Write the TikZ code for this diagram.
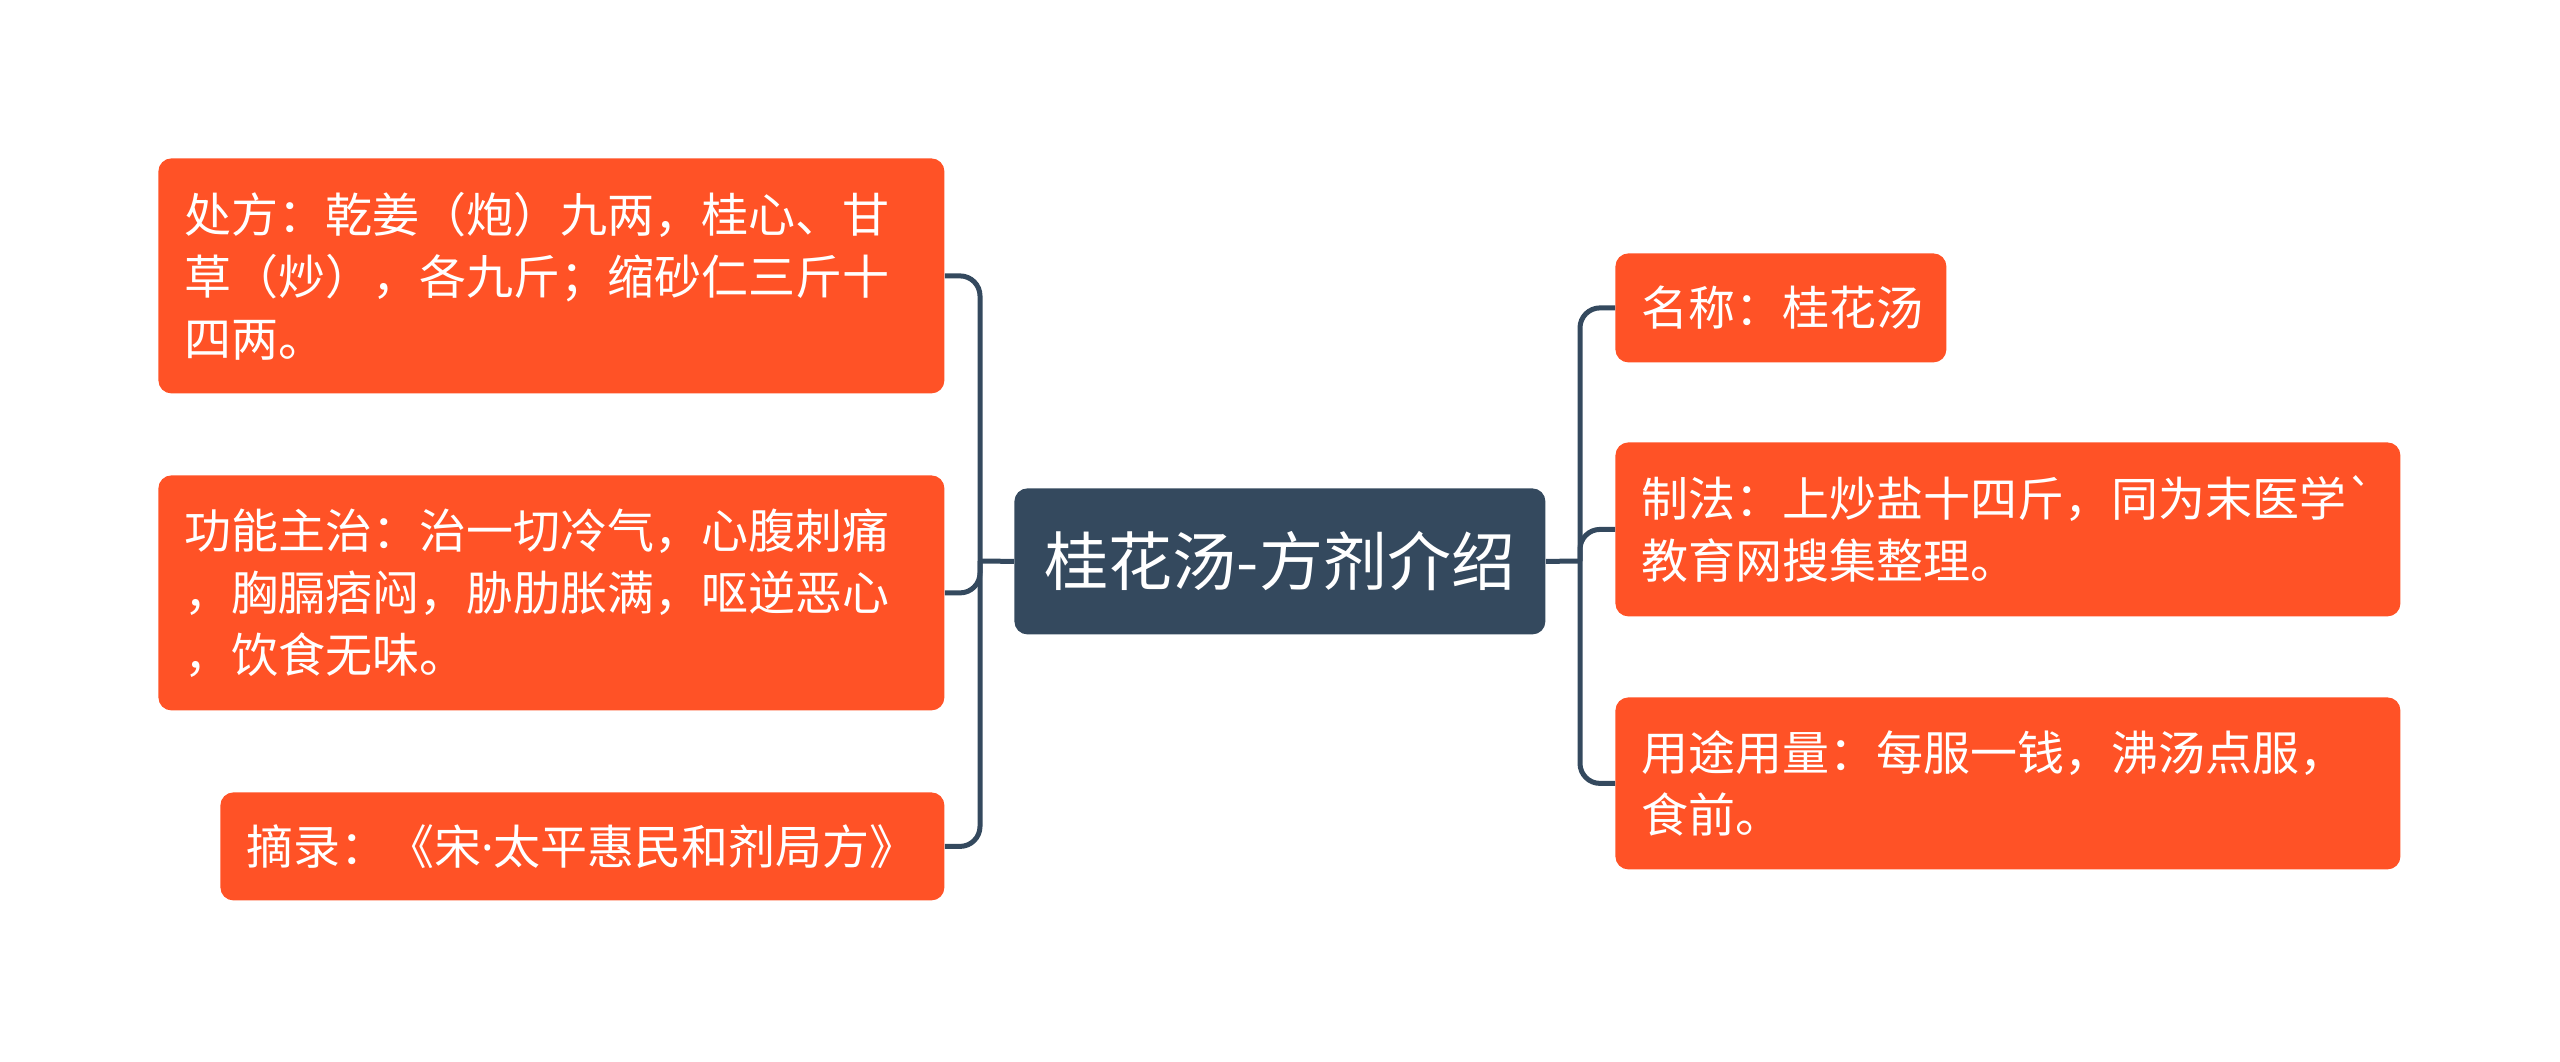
\documentclass[tikz,border=0pt]{standalone}
\usepackage{fontspec}
\usepackage{xcolor}
\usepackage{tikz}
\usetikzlibrary{positioning}
\newfontfamily\cjk{Noto Sans CJK SC}
\newfontfamily\latinfont{Noto Sans}
\definecolor{leafFill}{HTML}{FF5226}
\definecolor{rootFill}{HTML}{34495E}
\definecolor{lineCol}{HTML}{34495E}

\begin{document}
\begin{tikzpicture}[
  x=0.5pt, y=-0.5pt,
  font=\cjk,
  base/.style={rounded corners=6.5pt, anchor=north west, inner ysep=0pt},
  leafbox/.style={base, fill=leafFill, text=white, align=left, inner xsep=13pt,
                  font=\cjk\fontsize{23.5}{31}\selectfont},
  rootbox/.style={base, fill=rootFill, text=white, align=center, inner xsep=0pt,
                  font=\cjk\fontsize{32}{38}\selectfont},
  link/.style={draw=lineCol, line width=2.5pt, rounded corners=10pt},
]
\useasboundingbox (0,0) rectangle (2560,1061);

% ---- Centre ----
\node[rootbox, text width=265.5pt, minimum height=73pt] (root) at (1014,488) {桂花汤-方剂介绍};

% ---- Left branch ----
\node[leafbox, text width=367pt, minimum height=117.5pt] (chufang) at (158,158)
  {处方：乾姜（炮）九两，桂心、甘\\草（炒），各九斤；缩砂仁三斤十\\四两。};
\node[leafbox, text width=367pt, minimum height=117.5pt] (gongneng) at (158,475)
  {功能主治：治一切冷气，心腹刺痛\\，胸膈痞闷，胁肋胀满，呕逆恶心\\，饮食无味。};
\node[leafbox, text width=336pt, minimum height=54pt] (zhailu) at (220,792)
  {摘录：《宋{\latinfont ·}太平惠民和剂局方》};

% ---- Right branch ----
\node[leafbox, text width=139.5pt, minimum height=54.5pt] (mingcheng) at (1615,253)
  {名称：桂花汤};
\node[leafbox, text width=366.5pt, minimum height=87pt] (zhifa) at (1615,442)
  {制法：上炒盐十四斤，同为末医学`\\教育网搜集整理。};
\node[leafbox, text width=366.5pt, minimum height=86pt] (yongtu) at (1615,697)
  {用途用量：每服一钱，沸汤点服，\\食前。};

% ---- Connectors ----
\coordinate (jl) at (980,561);
\coordinate (jr) at (1580,561);
\draw[link] (root.west) -- (jl);
\draw[link] (root.east) -- (jr);
\draw[link] (chufang.east) -| (jl);
\draw[link] (gongneng.east) -| (jl);
\draw[link] (zhailu.east) -| (jl);
\draw[link] (mingcheng.west) -| (jr);
\draw[link] (zhifa.west) -| (jr);
\draw[link] (yongtu.west) -| (jr);

\end{tikzpicture}
\end{document}
